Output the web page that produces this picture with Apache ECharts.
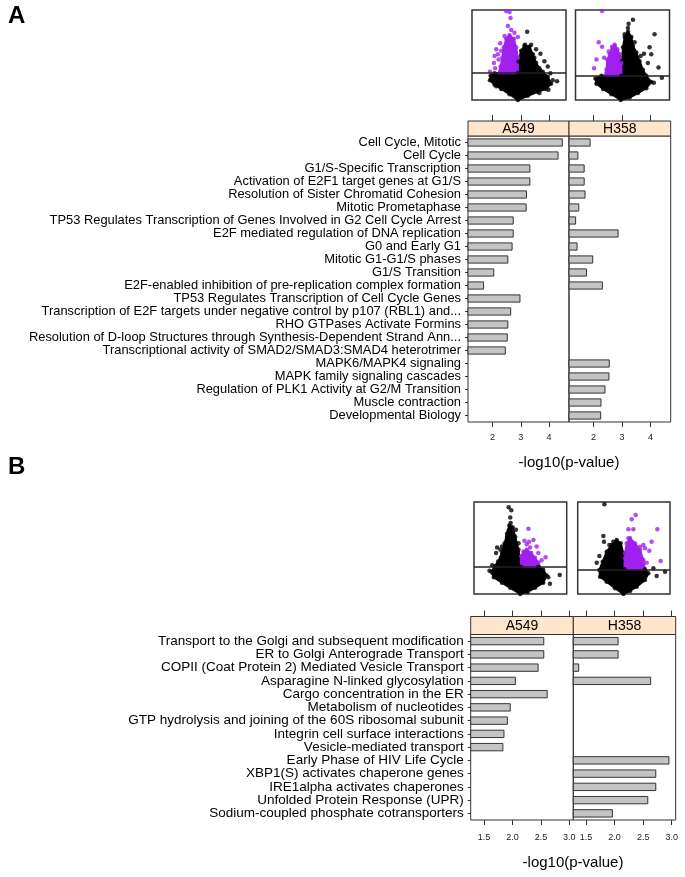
<!DOCTYPE html>
<html>
<head>
<meta charset="utf-8">
<script src="https://cdn.jsdelivr.net/npm/echarts@6/dist/echarts.min.js"></script>
<style>
  html, body { margin: 0; padding: 0; background: #fff; }
  #main { width: 685px; height: 877px; }
</style>
</head>
<body>
<div id="main"></div>
<script>
// pathway enrichment, panel A
var catsA = [
  'Cell Cycle, Mitotic',
  'Cell Cycle',
  'G1/S-Specific Transcription',
  'Activation of E2F1 target genes at G1/S',
  'Resolution of Sister Chromatid Cohesion',
  'Mitotic Prometaphase',
  'TP53 Regulates Transcription of Genes Involved in G2 Cell Cycle Arrest',
  'E2F mediated regulation of DNA replication',
  'G0 and Early G1',
  'Mitotic G1-G1/S phases',
  'G1/S Transition',
  'E2F-enabled inhibition of pre-replication complex formation',
  'TP53 Regulates Transcription of Cell Cycle Genes',
  'Transcription of E2F targets under negative control by p107 (RBL1) and...',
  'RHO GTPases Activate Formins',
  'Resolution of D-loop Structures through Synthesis-Dependent Strand Ann...',
  'Transcriptional activity of SMAD2/SMAD3:SMAD4 heterotrimer',
  'MAPK6/MAPK4 signaling',
  'MAPK family signaling cascades',
  'Regulation of PLK1 Activity at G2/M Transition',
  'Muscle contraction',
  'Developmental Biology'
];
var a549A = [4.49, 4.34, 3.34, 3.34, 3.22, 3.21, 2.75, 2.75, 2.71, 2.56, 2.06, 1.70,
  2.99, 2.66, 2.56, 2.54, 2.47, null, null, null, null, null];
var h358A = [1.90, 1.47, 1.69, 1.69, 1.72, 1.50, 1.39, 2.88, 1.44, 1.99, 1.77, 2.33,
  null, null, null, null, null, 2.57, 2.56, 2.42, 2.28, 2.27];
var ticksA = [2, 3, 4];

// panel B
var catsB = [
  'Transport to the Golgi and subsequent modification',
  'ER to Golgi Anterograde Transport',
  'COPII (Coat Protein 2) Mediated Vesicle Transport',
  'Asparagine N-linked glycosylation',
  'Cargo concentration in the ER',
  'Metabolism of nucleotides',
  'GTP hydrolysis and joining of the 60S ribosomal subunit',
  'Integrin cell surface interactions',
  'Vesicle-mediated transport',
  'Early Phase of HIV Life Cycle',
  'XBP1(S) activates chaperone genes',
  'IRE1alpha activates chaperones',
  'Unfolded Protein Response (UPR)',
  'Sodium-coupled phosphate cotransporters'
];
var a549B = [2.56, 2.56, 2.46, 2.06, 2.62, 1.97, 1.92, 1.86, 1.84, null, null, null, null, null];
var h358B = [2.07, 2.07, 1.38, 2.64, null, null, null, null, null, 2.96, 2.73, 2.73, 2.59, 1.97];
var ticksB = [1.5, 2, 2.5, 3];

// volcano insets (fold change scaled 0-100, -log10 p scaled 0-100)
var thrAL = 30;
var coreAL = [[48.8,0],[39.9,6.5],[31.1,12.3],[24,16.9],[19.1,21.9],[19.8,26.9],[24,29.6],[48.8,29.6],
  [49.5,43.1],[52.3,54.6],[55.8,60.4],[61.1,59.2],[64.7,50.8],[68.2,41.2],[71.7,35.4],[75.3,31.5],
  [80.6,25.8],[84.1,18.1],[78.8,12.3],[70,9.2],[59.4,4.6]];
var selAL = [[28.3,29.6],[30.4,37.3],[32.2,46.9],[33.9,58.5],[36.4,68.1],[39.9,71.9],[44.5,68.1],
  [47,58.5],[48.8,46.9],[48.8,29.6]];
var selPtsAL = [[36.4,99],[39.9,97.7],[41,91.2],[38.2,82.3],[41.7,77.7],[34.6,71.2],[30,63.1],[25.8,56.5],
  [24,48.8],[23.3,41.2],[28.3,45],[24.7,35.4],[19.1,31.5],[31.1,54.6],[27.6,50.8],[45.2,74.6],[48.8,70]];
var otherPtsAL = [[58.7,75.8],[56.5,61.5],[62.9,61.5],[68.2,56.5],[72.8,51.5],[77,43.1],[80.6,37.3],
  [90.5,20.8],[81.3,11.5],[71.7,7.7],[21.2,23.1],[25.8,15.4],[31.8,13.1],[83.4,29.6],[66.4,46.9],[85.9,21.9]];

var thrAR = 27;
var coreAR = [[48.1,0],[38.2,6.5],[29.3,12.3],[22.3,18.1],[21.2,23.8],[27.6,26.9],[48.8,26.9],[49.5,43.1],
  [50.5,58.5],[52.3,70],[55.8,75.8],[59.4,70],[61.1,60.4],[64.7,52.7],[68.2,43.1],[71.7,33.5],[75.3,26.9],
  [80.6,20],[75.3,13.1],[66.4,7.7],[57.6,2.7]];
var selAR = [[31.1,26.9],[32.9,33.5],[33.9,45],[36.4,50.8],[38.9,59.2],[41.7,61.5],[44.5,56.5],[47,50.8],
  [48.8,41.2],[48.8,26.9]];
var selPtsAR = [[28.3,99],[24.7,64.2],[28.3,59.2],[22.3,45],[19.8,35.4],[30.4,46.9],[35.3,53.8]];
var otherPtsAR = [[61.1,89.2],[56.5,84.6],[55.8,80],[52.3,73.1],[84.1,73.1],[78.8,58.5],[80.6,50.8],
  [72.8,51.5],[69.3,48.8],[88.3,36.2],[91.9,24.6],[83.4,19.2],[68.2,14.2],[24,19.2],[62.9,64.2],[77,41.2]];

var thrBL = 29.5;
var coreBL = [[49.8,0],[39.1,6.7],[30.2,12.3],[21.4,18.2],[18.9,24.2],[22.4,30.2],[26,35.4],[30.2,44.6],
  [33.1,55.1],[35.6,65.6],[38.1,74.4],[41.6,72.6],[44.5,62.1],[48,48.1],[50.5,29.5],[69.4,29.5],
  [74.7,26.3],[78.3,20],[74.7,12.3],[65.8,6.7],[58,2.5]];
var selBL = [[50.5,29.5],[50.9,41.1],[53.4,46.3],[56.9,48.1],[61.6,44.6],[65.8,39.3],[69.4,34],[71.2,29.5]];
var selPtsBL = [[58.7,70.9],[54.4,57.9],[59.4,56.8],[64.1,58.6],[56.9,54],[60.5,50.5],[69.4,44.6],
  [77.2,40],[72.9,36.8],[65.8,34.7],[67.6,51.6]];
var otherPtsBL = [[37.4,94.4],[40.2,90.9],[39.1,83.2],[39.5,77.2],[45.2,69.8],[37.4,69.1],[35.6,62.1],
  [30.2,51.6],[24.9,50.5],[23.8,44.6],[28.5,48.1],[19.6,31.2],[16.7,25.3],[20.3,22.8],[26,20],
  [92.5,20.7],[81.9,11.2],[80.1,18.2],[48,55.1]];

var thrBR = 26.8;
var coreBR = [[49.5,0],[40.4,6.2],[31.4,13.4],[24.2,18.8],[23.5,26.1],[27.1,35.1],[31.4,46],[36.8,53.3],
  [42.2,58.7],[46.6,55.1],[49.5,44.2],[50.5,26.8],[72.9,26.8],[76.5,22.5],[72.9,15.2],[63.9,8],[56.7,3.3]];
var selBR = [[50.5,26.8],[51.3,44.2],[53.1,55.1],[56.7,60.5],[62.1,55.1],[67.5,47.8],[71.1,37],[72.9,26.8]];
var selPtsBR = [[62.8,85.9],[58.5,81.2],[54.9,70.3],[60.3,70.3],[86.3,70.3],[80.1,56.9],[71.1,53.3],
  [72.9,49.6],[77.6,47.1],[67.5,51.4],[89.9,35.9],[74.7,34.1],[65.7,40.6],[54.9,60.5],[51.3,38.8]];
var otherPtsBR = [[28.9,97.5],[27.8,63],[28.5,56.9],[20.6,34.1],[23.5,41.3],[34.3,53.3],[38.6,56.9],
  [26,24.3],[94.6,24.3],[85.6,19.6],[82,27.9],[69.3,18.8]];

var FONT = 'Liberation Sans, Arial, sans-serif';
var PURPLE = '#A020F0';

var chart = echarts.init(document.getElementById('main'), null, { renderer: 'canvas' });

// bar panels: grid 0..3, volcano boxes: grid 4..7
var grids = [
  { left: 468, top: 136, width: 101, height: 286 },
  { left: 569, top: 136, width: 101.7, height: 286 },
  { left: 470.7, top: 634.5, width: 102.6, height: 185.5 },
  { left: 573.3, top: 634.5, width: 102.4, height: 185.5 },
  { left: 472, top: 10, width: 94, height: 90 },
  { left: 575.5, top: 10, width: 94, height: 90 },
  { left: 474, top: 502, width: 92.7, height: 92 },
  { left: 577.7, top: 502, width: 92.3, height: 92 }
].map(function (g) {
  g.show = true;
  g.borderColor = '#333';
  g.borderWidth = 1;
  g.backgroundColor = 'transparent';
  return g;
});
for (var i = 4; i < 8; i++) grids[i].borderWidth = 1.5;

var xAxes = [], yAxes = [], series = [];

function barPanel(gi, cats, vals, rng, ticks, showLabels, stripOffset, labelSize, tickMargin) {
  var fmt = function (v) { return ticks === ticksB ? v.toFixed(1) : String(v); };
  xAxes[gi] = {
    type: 'value', gridIndex: gi, position: 'bottom', min: rng[0], max: rng[1],
    splitLine: { show: false }, axisLine: { show: false },
    axisTick: { show: true, length: 5, customValues: ticks, lineStyle: { color: '#333' } },
    axisLabel: { customValues: ticks, formatter: fmt, margin: tickMargin, fontSize: 9, color: '#222', fontFamily: FONT }
  };
  xAxes[gi + 4] = {
    type: 'value', gridIndex: gi, position: 'top', offset: stripOffset, min: rng[0], max: rng[1],
    splitLine: { show: false }, axisLine: { show: false },
    axisTick: { show: true, length: 6, customValues: ticks, lineStyle: { color: '#333' } },
    axisLabel: { show: false }
  };
  yAxes[gi] = {
    type: 'category', gridIndex: gi, data: cats, inverse: true,
    axisLine: { show: false },
    axisTick: { show: showLabels, length: 3, alignWithLabel: true, lineStyle: { color: '#333' } },
    axisLabel: { show: showLabels, margin: 7, fontSize: labelSize, color: '#000', fontFamily: FONT, interval: 0 }
  };
  series.push({
    type: 'bar', xAxisIndex: gi, yAxisIndex: gi, data: vals, barWidth: '63%',
    itemStyle: { color: '#C4C4C4', borderColor: '#333', borderWidth: 1 },
    clip: true, silent: true
  });
}

barPanel(0, catsA, a549A, [1.13, 4.71], ticksA, true, 15, 12.9, 11);
barPanel(1, catsA, h358A, [1.14, 4.71], ticksA, false, 15, 12.9, 11);
barPanel(2, catsB, a549B, [1.266, 3.07], ticksB, true, 18, 13.5, 13.5);
barPanel(3, catsB, h358B, [1.277, 3.07], ticksB, false, 18, 13.5, 13.5);

function polygon(xi, yi, pts, color) {
  return {
    type: 'custom', xAxisIndex: xi, yAxisIndex: yi, data: pts, silent: true,
    renderItem: function (params, api) {
      if (params.dataIndex !== 0) return;
      return {
        type: 'polygon',
        shape: { points: pts.map(function (p) { return api.coord(p); }) },
        style: { fill: color, stroke: color, lineWidth: 2 }
      };
    }
  };
}

function volcano(k, core, sel, selPts, otherPts, thr) {
  var gi = 4 + k, xi = 8 + k, yi = 4 + k;
  xAxes[xi] = { type: 'value', gridIndex: gi, min: 0, max: 100, show: false };
  yAxes[yi] = { type: 'value', gridIndex: gi, min: 0, max: 100, show: false };
  series.push(polygon(xi, yi, core, '#000'));
  series.push({ type: 'scatter', xAxisIndex: xi, yAxisIndex: yi, data: core.concat(otherPts),
    symbolSize: 4.5, itemStyle: { color: '#000' }, silent: true });
  series.push(polygon(xi, yi, sel, PURPLE));
  series.push({ type: 'scatter', xAxisIndex: xi, yAxisIndex: yi, data: sel.slice(1, -1).concat(selPts),
    symbolSize: 4.5, itemStyle: { color: PURPLE }, silent: true,
    markLine: { silent: true, symbol: 'none', label: { show: false },
      lineStyle: { color: '#222', width: 1.5, type: 'solid' }, data: [{ yAxis: thr }] } });
}

volcano(0, coreAL, selAL, selPtsAL, otherPtsAL, thrAL);
volcano(1, coreAR, selAR, selPtsAR, otherPtsAR, thrAR);
volcano(2, coreBL, selBL, selPtsBL, otherPtsBL, thrBL);
volcano(3, coreBR, selBR, selPtsBR, otherPtsBR, thrBR);

function strip(x, y, w, h, label) {
  return [
    { type: 'rect', shape: { x: x, y: y, width: w, height: h },
      style: { fill: '#FFE5CC', stroke: '#333', lineWidth: 1 } },
    { type: 'text', x: x + w / 2, y: y + h / 2 + 1,
      style: { text: label, fill: '#000', font: '14px ' + FONT, textAlign: 'center', textVerticalAlign: 'middle' } }
  ];
}

var graphics = []
  .concat(strip(468, 121, 101, 15, 'A549'))
  .concat(strip(569, 121, 101.7, 15, 'H358'))
  .concat(strip(470.7, 616.5, 102.6, 18, 'A549'))
  .concat(strip(573.3, 616.5, 102.4, 18, 'H358'))
  .concat([
    { type: 'text', x: 8, y: 4, style: { text: 'A', fill: '#000', font: 'bold 24px ' + FONT } },
    { type: 'text', x: 8, y: 455, style: { text: 'B', fill: '#000', font: 'bold 24px ' + FONT } },
    { type: 'text', x: 569, y: 463, style: { text: '-log10(p-value)', fill: '#000', font: '15px ' + FONT,
      textAlign: 'center', textVerticalAlign: 'middle' } },
    { type: 'text', x: 573, y: 863, style: { text: '-log10(p-value)', fill: '#000', font: '15px ' + FONT,
      textAlign: 'center', textVerticalAlign: 'middle' } }
  ]);

chart.setOption({
  animation: false,
  backgroundColor: '#fff',
  grid: grids,
  xAxis: xAxes,
  yAxis: yAxes,
  series: series,
  graphic: graphics
});
</script>
</body>
</html>
